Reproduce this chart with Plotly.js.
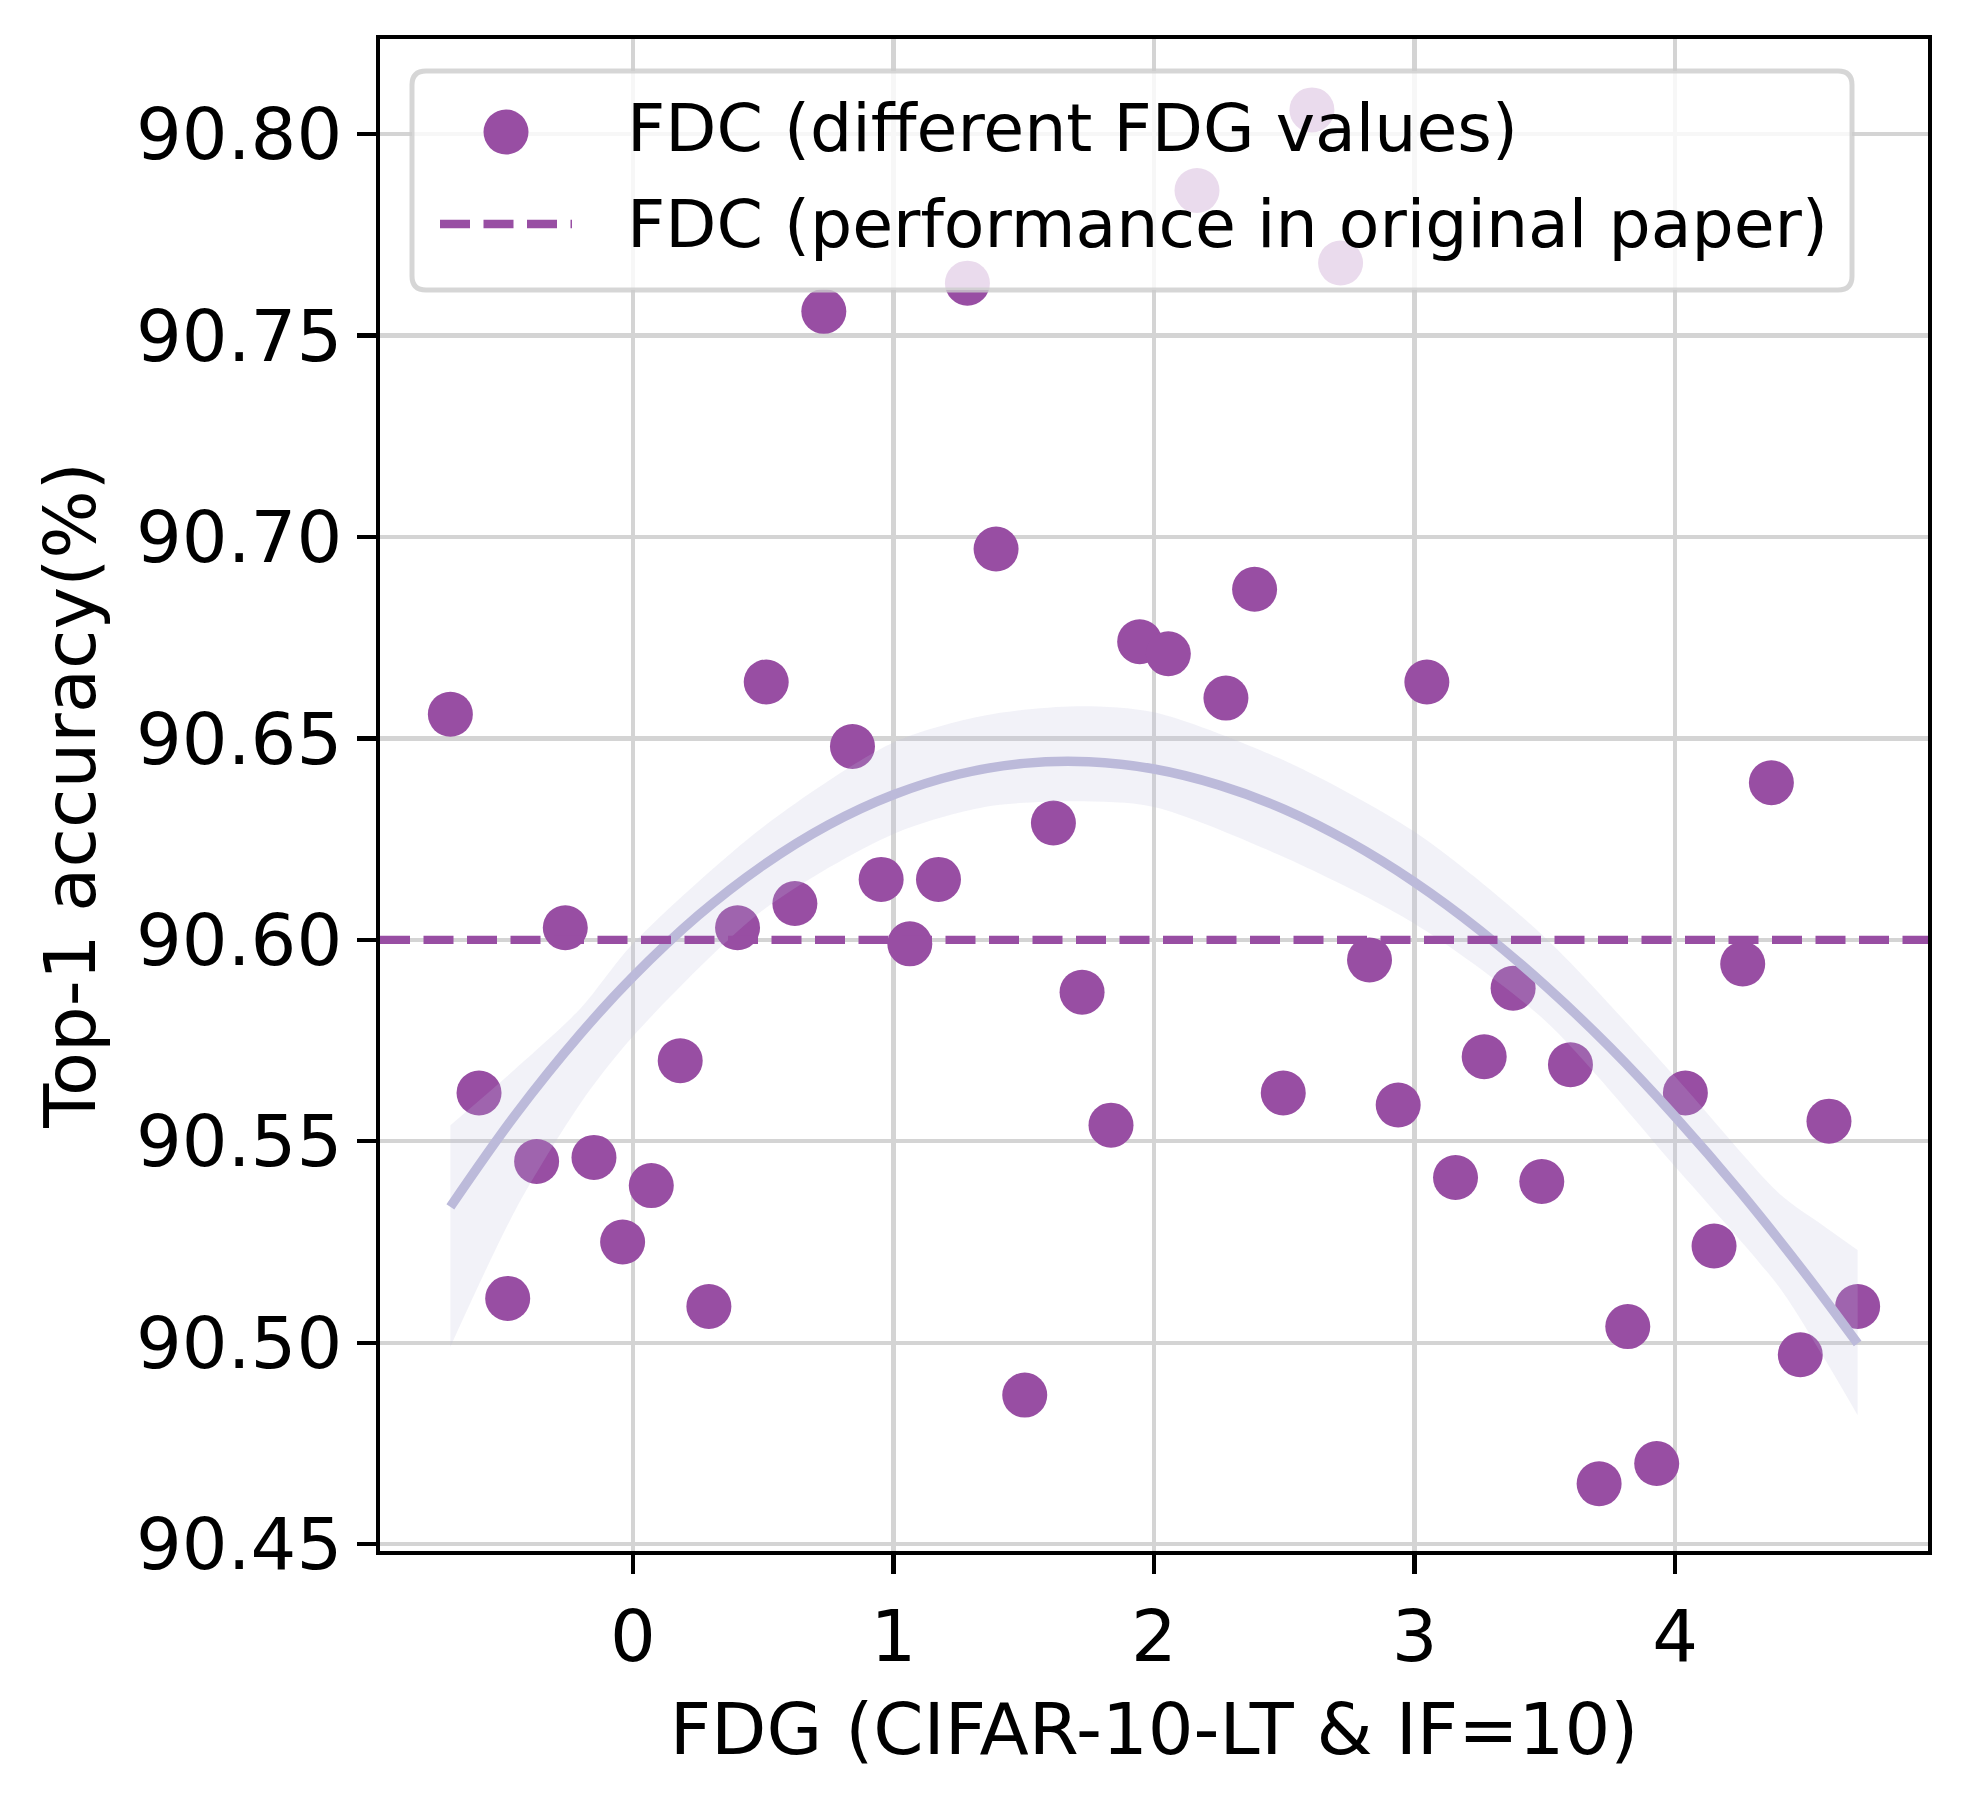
<!DOCTYPE html>
<html>
<head>
<meta charset="utf-8">
<script src="https://cdn.plot.ly/plotly-3.0.1.min.js"></script>
<style>html,body{margin:0;padding:0;background:#fff;}#chart{width:1969px;height:1793px;}</style>
</head>
<body>
<div id="chart"></div>
<script>
// ---- data ----
const fdgValues = [-0.700, -0.590, -0.480, -0.369, -0.259, -0.149, -0.039, 0.071, 0.182, 0.292,
                   0.402, 0.512, 0.622, 0.733, 0.843, 0.953, 1.063, 1.173, 1.284, 1.394,
                   1.504, 1.614, 1.724, 1.835, 1.945, 2.055, 2.165, 2.276, 2.386, 2.496,
                   2.606, 2.716, 2.827, 2.937, 3.047, 3.157, 3.267, 3.378, 3.488, 3.598,
                   3.708, 3.818, 3.929, 4.039, 4.149, 4.259, 4.369, 4.480, 4.590, 4.700];
const accuracyValues = [90.656, 90.562, 90.511, 90.545, 90.603, 90.546, 90.525, 90.539, 90.570, 90.509,
                        90.603, 90.664, 90.609, 90.756, 90.648, 90.615, 90.599, 90.615, 90.763, 90.697,
                        90.487, 90.629, 90.587, 90.554, 90.674, 90.671, 90.786, 90.660, 90.687, 90.562,
                        90.806, 90.768, 90.595, 90.559, 90.664, 90.541, 90.571, 90.588, 90.540, 90.569,
                        90.465, 90.504, 90.470, 90.562, 90.524, 90.594, 90.639, 90.497, 90.555, 90.509];
// fitted trend line
const fitX = [-0.70, -0.45, -0.20, 0.00, 0.25, 0.50, 0.75, 1.00, 1.25, 1.50, 1.75, 2.00, 2.25, 2.50, 2.75, 3.00, 3.25, 3.50, 3.75, 4.00, 4.25, 4.50, 4.70];
const fitY = [90.5337, 90.5566, 90.5767, 90.5908, 90.6060, 90.6185, 90.6285, 90.6360, 90.6411, 90.6438, 90.6442, 90.6424,
              90.6384, 90.6324, 90.6243, 90.6143, 90.6024, 90.5887, 90.5733, 90.5561, 90.5374, 90.5171, 90.4998];
// confidence band
const bandX = [-0.70, -0.45, -0.20, 0.00, 0.50, 1.00, 1.35, 1.70, 2.00, 2.50, 3.00, 3.50, 4.00, 4.40, 4.57, 4.70];
const bandUpper = [90.554, 90.568, 90.583, 90.599, 90.628, 90.649, 90.6557, 90.658, 90.6565, 90.6445, 90.6268, 90.6006, 90.566, 90.537, 90.529, 90.523];
const bandLower = [90.499, 90.533, 90.5595, 90.576, 90.6074, 90.6263, 90.633, 90.6344, 90.633, 90.6205, 90.604, 90.580, 90.5437, 90.5137, 90.4963, 90.482];
const paperPerformance = 90.60;
const xTickValues = [0, 1, 2, 3, 4];
const yTickValues = [90.45, 90.50, 90.55, 90.60, 90.65, 90.70, 90.75, 90.80];
const yTickLabels = ['90.45', '90.50', '90.55', '90.60', '90.65', '90.70', '90.75', '90.80'];
const seriesNames = ['FDC (different FDG values)', 'FDC (performance in original paper)'];
const xTitle = 'FDG (CIFAR-10-LT & IF=10)';
const yTitle = 'Top-1 accuracy(%)';

// ---- styling / layout ----
const FONT = 'DejaVu Sans, Liberation Sans, sans-serif';
const PURPLE = '#984ea3';
const FIT = 'rgb(188,186,218)';
const W = 1969, H = 1793;
const M = {l: 380, r: 41, t: 39, b: 242};
const PW = W - M.l - M.r, PH = H - M.t - M.b;
const px = v => (v - M.l) / PW;
const py = v => (H - M.b - v) / PH;

const traces = [
  {type: 'scatter', mode: 'markers', name: seriesNames[0], x: fdgValues, y: accuracyValues,
   marker: {color: PURPLE, size: 45, line: {width: 0}}, showlegend: false, hoverinfo: 'x+y'},
  {type: 'scatter', mode: 'lines', name: 'CI lower', x: bandX, y: bandLower,
   line: {width: 0, color: 'rgba(0,0,0,0)', shape: 'spline', smoothing: 0.8}, showlegend: false, hoverinfo: 'skip'},
  {type: 'scatter', mode: 'lines', name: 'CI upper', x: bandX, y: bandUpper, fill: 'tonexty',
   fillcolor: 'rgba(188,189,220,0.2)', line: {width: 0, color: 'rgba(0,0,0,0)', shape: 'spline', smoothing: 0.8},
   showlegend: false, hoverinfo: 'skip'},
  {type: 'scatter', mode: 'lines', name: 'fit', x: fitX, y: fitY,
   line: {color: FIT, width: 9.5, shape: 'spline', smoothing: 1}, showlegend: false, hoverinfo: 'skip'}
];

// legend box geometry (pixels)
const LB = {x0: 412, x1: 1852, y0: 71, y1: 290, r: 14};
function roundRectPath(b) {
  const rx = b.r / PW, ry = b.r / PH;
  const x0 = px(b.x0), x1 = px(b.x1), yT = py(b.y0), yB = py(b.y1);
  return `M ${x0 + rx} ${yT} L ${x1 - rx} ${yT} Q ${x1} ${yT} ${x1} ${yT - ry} ` +
         `L ${x1} ${yB + ry} Q ${x1} ${yB} ${x1 - rx} ${yB} L ${x0 + rx} ${yB} ` +
         `Q ${x0} ${yB} ${x0} ${yB + ry} L ${x0} ${yT - ry} Q ${x0} ${yT} ${x0 + rx} ${yT} Z`;
}

const shapes = [
  {type: 'line', xref: 'paper', yref: 'y', x0: 0, x1: 1, y0: paperPerformance, y1: paperPerformance,
   line: {color: PURPLE, width: 8.3, dash: '30px,13.5px'}, layer: 'above'},
  {type: 'path', xref: 'paper', yref: 'paper', path: roundRectPath(LB),
   fillcolor: 'rgba(255,255,255,0.8)', line: {color: 'rgba(204,204,204,0.8)', width: 5}, layer: 'above'},
  {type: 'circle', xref: 'paper', yref: 'paper', x0: px(506 - 22.5), x1: px(506 + 22.5), y0: py(132 - 22.5), y1: py(132 + 22.5),
   fillcolor: PURPLE, line: {width: 0}, layer: 'above'},
  {type: 'line', xref: 'paper', yref: 'paper', x0: px(440), x1: px(572), y0: py(224), y1: py(224),
   line: {color: PURPLE, width: 8.3, dash: '30px,13.5px'}, layer: 'above'}
];

const annotations = [
  {xref: 'paper', yref: 'paper', x: px(625), y: py(128), xanchor: 'left', yanchor: 'middle', showarrow: false,
   text: seriesNames[0], font: {family: FONT, size: 66.5, color: '#000'}},
  {xref: 'paper', yref: 'paper', x: px(625), y: py(224), xanchor: 'left', yanchor: 'middle', showarrow: false,
   text: seriesNames[1], font: {family: FONT, size: 66.5, color: '#000'}}
];

const axisCommon = {
  showline: true, mirror: true, linecolor: '#000', linewidth: 4.4,
  ticks: 'outside', ticklen: 19, tickwidth: 4.4, tickcolor: '#000',
  showgrid: true, gridcolor: '#d4d4d4', gridwidth: 4.4, zeroline: false,
  tickfont: {family: FONT, size: 72, color: '#000'}
};

const layout = {
  width: W, height: H, margin: M, paper_bgcolor: '#fff', plot_bgcolor: '#fff',
  font: {family: FONT, color: '#000'},
  showlegend: false,
  xaxis: Object.assign({}, axisCommon, {
    range: [-0.97, 4.97], tickvals: xTickValues, ticktext: xTickValues.map(String),
    title: {text: xTitle, font: {family: FONT, size: 72, color: '#000'}, standoff: 28}
  }),
  yaxis: Object.assign({}, axisCommon, {
    range: [90.4483, 90.8236], tickvals: yTickValues, ticktext: yTickLabels,
    title: {text: yTitle, font: {family: FONT, size: 72, color: '#000'}, standoff: 18}
  }),
  shapes: shapes,
  annotations: annotations
};

Plotly.newPlot('chart', traces, layout, {displayModeBar: false, staticPlot: true});
</script>
</body>
</html>
